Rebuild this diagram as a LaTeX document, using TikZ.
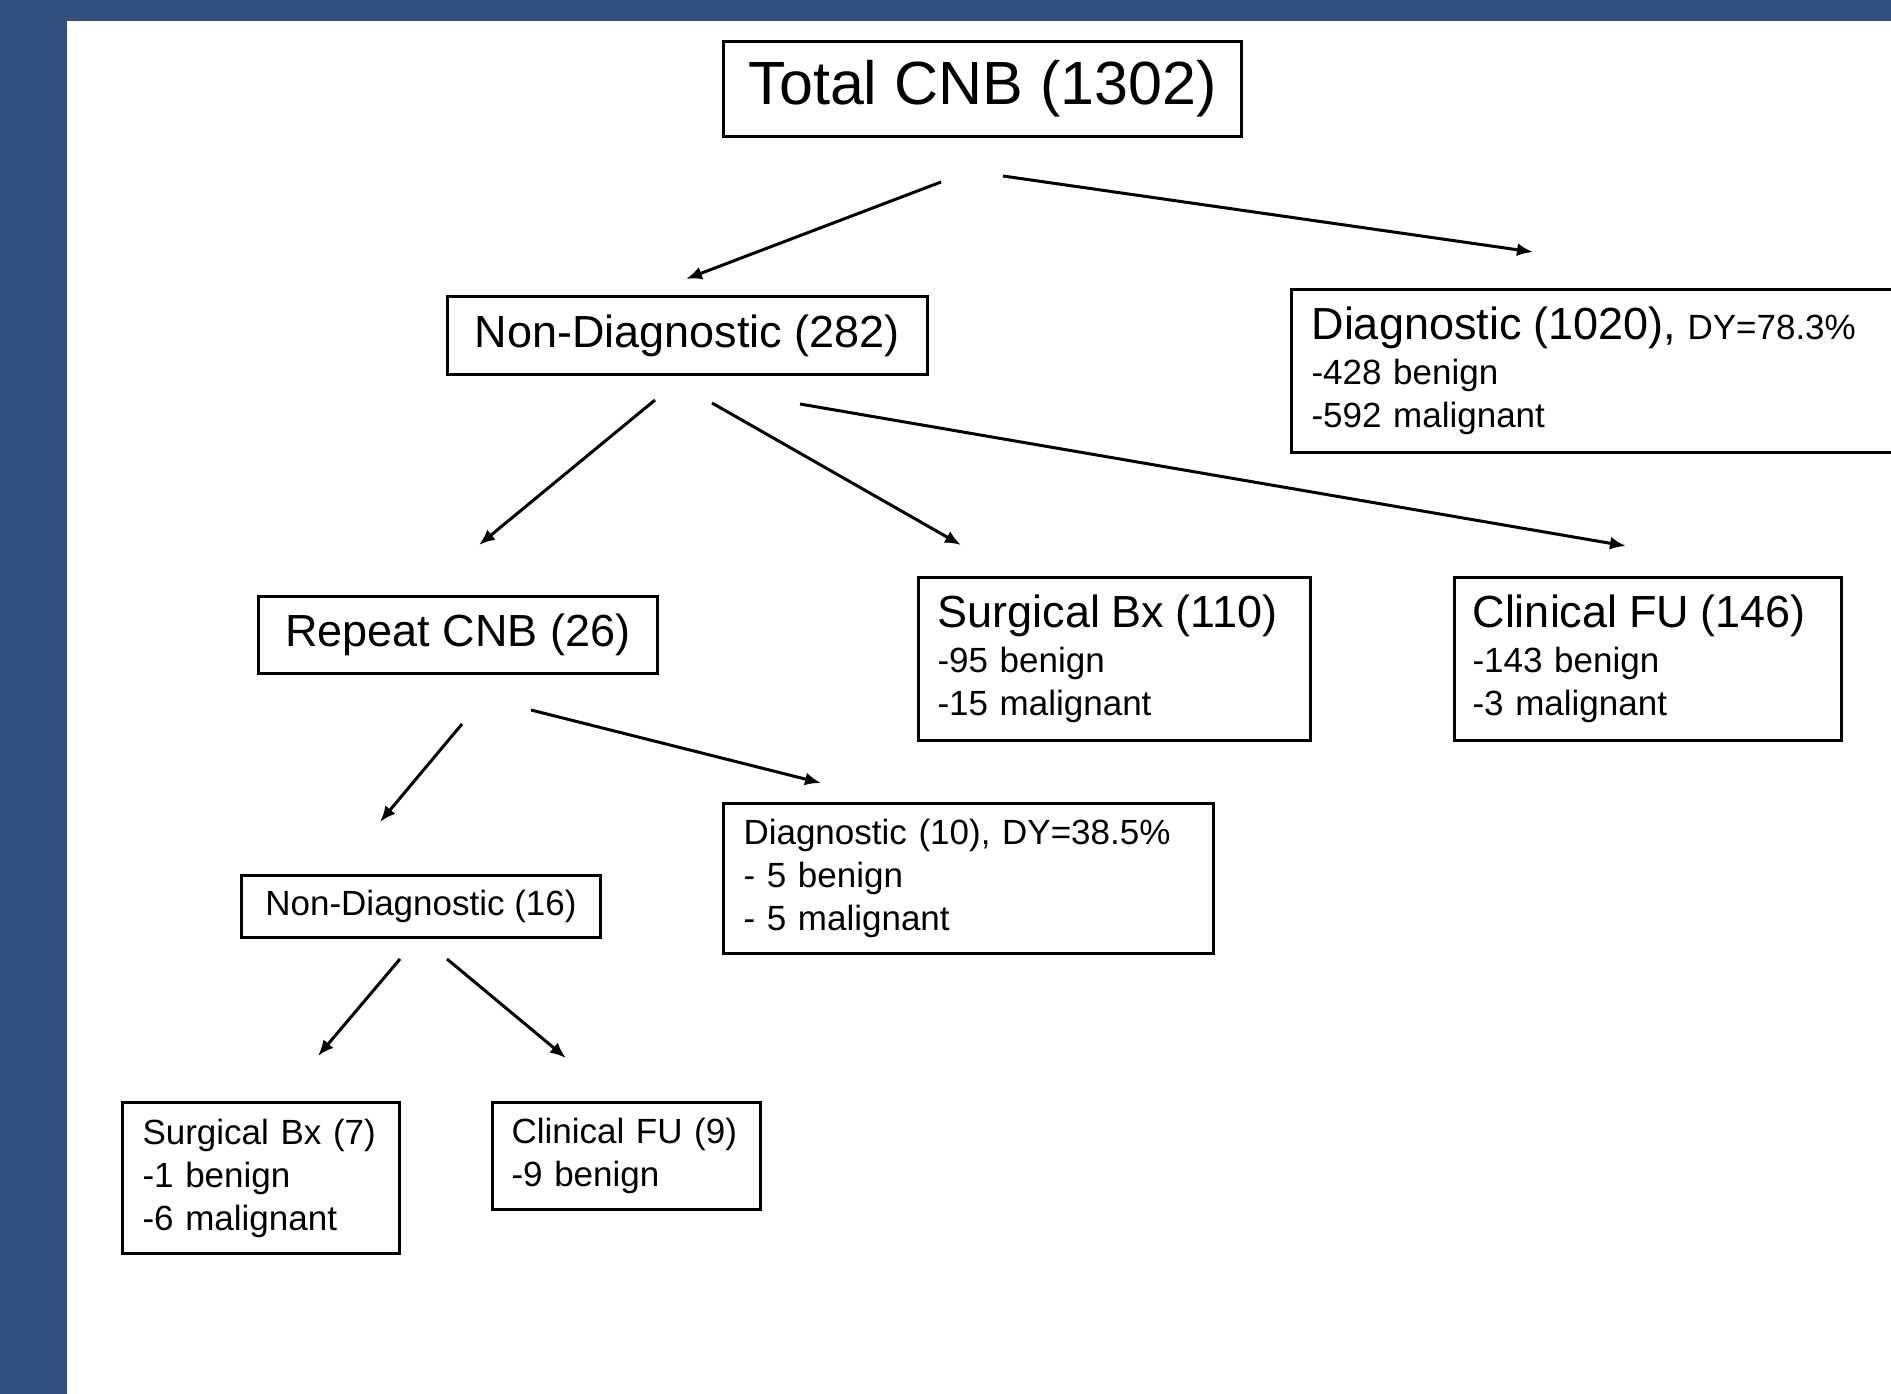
\documentclass[tikz,border=0pt]{standalone}
\usepackage{fontspec}
\setmainfont{Liberation Sans}
\usetikzlibrary{arrows.meta}
\definecolor{slideblue}{RGB}{51,79,126}
\newcommand{\titlefont}{\fontsize{45}{50}\selectfont}
\tikzset{
  box/.style={draw, line width=3pt, anchor=north west, inner xsep=20pt, inner ysep=0pt,
    align=left, font=\fontsize{35}{43}\selectfont},
  arr/.style={-{Latex[length=16pt,width=13pt]}, line width=3pt},
}
\begin{document}
\begin{tikzpicture}[x=1pt,y=-1pt]
	            \useasboundingbox (0,0) rectangle (1891,1394);
	            \fill[slideblue] (0,0) rectangle (1891,1394);
	            \fill[white] (67,21) rectangle (1891,1394);
	            % boxes
	            \node[box, align=center, minimum width=518pt, minimum height=95pt, font=\fontsize{61}{65}\selectfont] at (722,40) (total) {Total CNB (1302)};
	            \node[box, align=center, minimum width=480pt, minimum height=78pt, font=\titlefont] at (446,295) (nondiag) {Non-Diagnostic (282)};
	            \node[box, text width=570pt, minimum height=163pt] at (1290,288) (diag) {{\titlefont Diagnostic (1020),} DY=78.3\%\\[2pt]-428 benign\\-592 malignant};
	            \node[box, align=center, minimum width=399pt, minimum height=77pt, font=\titlefont] at (257,595) (repeatcnb) {Repeat CNB (26)};
	            \node[box, inner xsep=19pt, text width=354pt, minimum height=163pt] at (917,576) (surgbx) {{\titlefont Surgical Bx (110)}\\[2pt]-95 benign\\-15 malignant};
	            \node[box, inner xsep=18pt, text width=351pt, minimum height=163pt] at (1453,576) (clinfu) {{\titlefont Clinical FU (146)}\\[2pt]-143 benign\\-3 malignant};
	            \node[box, text width=450pt, minimum height=150pt] at (722,802) (rdiag) {Diagnostic (10), DY=38.5\%\\- 5 benign\\- 5 malignant};
	            \node[box, align=center, minimum width=359pt, minimum height=62pt] at (240,874) (rnondiag) {Non-Diagnostic (16)};
	            \node[box, text width=237pt, minimum height=151pt] at (121,1101) (rsurgbx) {Surgical Bx (7)\\-1 benign\\-6 malignant};
	            \node[box, inner xsep=19pt, text width=230pt, minimum height=107pt] at (491,1101) (rclinfu) {Clinical FU (9)\\-9 benign};
	            % arrow ends
	            \coordinate (total-l) at (941,182);
	            \coordinate (total-r) at (1003,176);
	            \coordinate (nondiag-in) at (686,279);
	            \coordinate (diag-in) at (1533,252);
	            \coordinate (nondiag-a) at (655,400);
	            \coordinate (nondiag-b) at (712,403);
	            \coordinate (nondiag-c) at (800,404);
	            \coordinate (repeatcnb-in) at (479,545);
	            \coordinate (surgbx-in) at (961,545);
	            \coordinate (clinfu-in) at (1626,546);
	            \coordinate (repeatcnb-a) at (462,724);
	            \coordinate (repeatcnb-b) at (531,710);
	            \coordinate (rnondiag-in) at (380,822);
	            \coordinate (rdiag-in) at (821,783);
	            \coordinate (rnondiag-a) at (400,959);
	            \coordinate (rnondiag-b) at (447,959);
	            \coordinate (rsurgbx-in) at (318,1056);
	            \coordinate (rclinfu-in) at (566,1058);
	            % arrows
	            \draw[arr] (total-l) -- (nondiag-in);
	            \draw[arr] (total-r) -- (diag-in);
	            \draw[arr] (nondiag-a) -- (repeatcnb-in);
	            \draw[arr] (nondiag-b) -- (surgbx-in);
	            \draw[arr] (nondiag-c) -- (clinfu-in);
	            \draw[arr] (repeatcnb-a) -- (rnondiag-in);
	            \draw[arr] (repeatcnb-b) -- (rdiag-in);
	            \draw[arr] (rnondiag-a) -- (rsurgbx-in);
	            \draw[arr] (rnondiag-b) -- (rclinfu-in);
\end{tikzpicture}
\end{document}
